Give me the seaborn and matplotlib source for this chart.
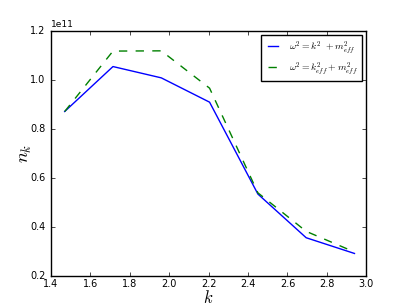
import numpy as np
import pandas as pd
import seaborn as sns
import matplotlib.pyplot as plt

# values (n_k in units of 1e11)
k = [1.47, 1.715, 1.96, 2.205, 2.45, 2.695, 2.94]
n_k_plain = [0.871, 1.054, 1.008, 0.909, 0.535, 0.357, 0.293]
n_k_eff = [0.871, 1.117, 1.118, 0.966, 0.540, 0.383, 0.299]

df = pd.DataFrame({"k": k, "plain": np.array(n_k_plain) * 1e11, "eff": np.array(n_k_eff) * 1e11})

plt.style.use("classic")
plt.rcParams["figure.facecolor"] = "white"
plt.rcParams["font.size"] = 7

fig, ax = plt.subplots(figsize=(4.07, 3.07), dpi=100)
fig.subplots_adjust(left=0.125, right=0.9, bottom=0.1, top=0.9)

sns.lineplot(data=df, x="k", y="plain", ax=ax, color="b", lw=1.0,
             label=r"$\omega^2=k^2\ +m_{eff}^2$")
sns.lineplot(data=df, x="k", y="eff", ax=ax, color="g", lw=1.0, linestyle="--",
             label=r"$\omega^2=k_{eff}^2+m_{eff}^2$")

ax.set_xlim(1.4, 3.0)
ax.set_ylim(0.2e11, 1.2e11)
ax.set_xticks(np.arange(1.4, 3.01, 0.2))
ax.set_yticks(np.arange(0.2e11, 1.21e11, 0.2e11))
ax.tick_params(labelsize=7, length=3)
ax.tick_params(axis="x", pad=2)
ax.yaxis.get_offset_text().set_fontsize(6.5)

ax.set_xlabel(r"$k$", fontsize=12, labelpad=0)
ax.set_ylabel(r"$n_k$", fontsize=13, labelpad=-3)

leg = ax.legend(loc="upper right", fontsize=7, frameon=True, fancybox=False,
                handlelength=1.6, borderpad=0.5, labelspacing=0.4,
                borderaxespad=0.4)
leg.get_frame().set_edgecolor("black")

plt.savefig("out.png", dpi=100, facecolor="white")
